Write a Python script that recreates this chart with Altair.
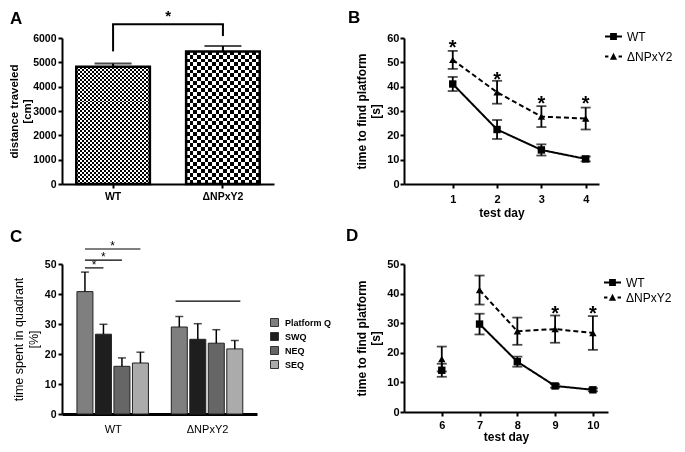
import altair as alt
import pandas as pd

FONT = "Liberation Sans"

# ---------------- data ----------------
groups = ["WT", "ΔNPxY2"]

# Panel A: distance travelled
a_groups = ["WT", "ΔNPxY2"]
a_mean = [4820, 5450]
a_sem = [130, 220]
a_ticks = [0, 1000, 2000, 3000, 4000, 5000, 6000]
a_bracket_top = 6560
a_bracket_legs = [5450, 6080]
a_star_y = 7000

# Panel B: acquisition, days 1-4
b_days = [1, 2, 3, 4]
b_wt_mean = [41.1, 22.4, 14.0, 10.3]
b_wt_sem = [2.9, 3.9, 2.3, 1.0]
b_np_mean = [51.0, 37.7, 27.7, 26.9]
b_np_sem = [3.7, 4.7, 4.3, 4.5]
b_star_days = [1, 2, 3, 4]
b_star_y = [58.3, 45.2, 35.2, 35.2]

# Panel C: probe trial, time in quadrant
c_quadrants = ["Platform Q", "SWQ", "NEQ", "SEQ"]
c_colors = ["#7f7f7f", "#1e1e1e", "#666666", "#ababab"]
c_wt_mean = [40.8, 26.6, 15.9, 17.0]
c_wt_sem = [6.5, 3.3, 2.8, 3.6]
c_np_mean = [29.0, 24.9, 23.6, 21.7]
c_np_sem = [3.5, 5.2, 4.5, 2.8]
c_sig_vs = ["SWQ", "NEQ", "SEQ"]
c_sig_y = [48.7, 51.3, 55.0]
c_np_line_y = 37.6

# Panel D: reversal, days 6-10
d_days = [6, 7, 8, 9, 10]
d_wt_mean = [14.1, 29.7, 17.0, 8.8, 7.5]
d_wt_sem = [2.2, 3.5, 1.7, 0.6, 0.5]
d_np_mean = [17.9, 41.2, 27.3, 28.0, 26.7]
d_np_sem = [4.2, 4.9, 4.6, 4.6, 5.7]
d_first_connected_day = 7
d_star_days = [9, 10]
d_star_y = [35.2, 35.2]

# ---------------- helpers ----------------
def letter(t, dx, dy):
    return alt.TitleParams(t, anchor="start", frame="group", dx=dx, dy=dy, offset=8,
                           fontSize=17, fontWeight="bold", font=FONT, color="black")


def stripe_gradient(n, horizontal):
    stops = []
    for k in range(n):
        col = "#000000" if k % 2 == 0 else "#ffffff"
        stops.append({"offset": k / n, "color": col})
        stops.append({"offset": (k + 1) / n, "color": col})
    return {"gradient": "linear", "stops": stops, "x1": 0, "y1": 0,
            "x2": 0 if horizontal else 1, "y2": 1 if horizontal else 0}


# ---------------- panel A ----------------
df_a = pd.DataFrame({"group": a_groups, "mean": a_mean, "sem": a_sem})
df_a["hi"] = df_a["mean"] + df_a["sem"]

xA = alt.X("group:N", title=None, sort=a_groups,
           scale=alt.Scale(domain=a_groups, paddingInner=0.33, paddingOuter=0.13),
           axis=alt.Axis(labelAngle=0, labelFontSize=10.5, labelPadding=3))
yA_scale = alt.Scale(domain=[0, 6000], nice=False)
yA_axis = alt.Axis(values=a_ticks, format="d", title=["distance traveled", "[cm]"],
                   titlePadding=0, titleFontSize=11.5)


def yA(f):
    return alt.Y(f, scale=yA_scale, axis=yA_axis)


checker = [(37, 59), (20, 36)]
layers_a = []
for g, (nv, nh) in zip(a_groups, checker):
    src = alt.Chart(df_a).transform_filter(alt.datum.group == g)
    layers_a.append(src.mark_bar(fill=stripe_gradient(nv, False), strokeWidth=0)
                    .encode(x=xA, y=yA("mean:Q")))
    layers_a.append(src.mark_bar(fill=stripe_gradient(nh, True), strokeWidth=0, blend="difference")
                    .encode(x=xA, y=yA("mean:Q")))

layers_a.append(alt.Chart(df_a).mark_bar(fill="white", fillOpacity=0, stroke="black", strokeWidth=2.5)
                .encode(x=xA, y=yA("mean:Q")))
layers_a.append(alt.Chart(df_a).mark_rule(color="black", strokeWidth=2)
                .encode(x=xA, y=yA("mean:Q"), y2="hi:Q"))
layers_a.append(alt.Chart(df_a).mark_tick(color="black", size=37, thickness=2)
                .encode(x=xA, y=yA("hi:Q")))

df_legs = pd.DataFrame({"group": a_groups, "bottom": a_bracket_legs,
                        "top": [a_bracket_top] * len(a_groups)})
layers_a.append(alt.Chart(df_legs).mark_rule(color="black", strokeWidth=2)
                .encode(x=xA, y=yA("bottom:Q"), y2="top:Q"))
df_br = pd.DataFrame({"group": [a_groups[0]], "group_end": [a_groups[1]],
                      "top": [a_bracket_top], "star": [a_star_y]})
layers_a.append(alt.Chart(df_br).mark_rule(color="black", strokeWidth=2, strokeCap="square")
                .encode(x=xA, x2="group_end:N", y=yA("top:Q")))
layers_a.append(alt.Chart(df_br).mark_text(text="*", fontSize=15, fontWeight="bold", dx=55, dy=7,
                                           baseline="alphabetic", color="black")
                .encode(x=xA, y=yA("star:Q")))

panel_a = alt.layer(*layers_a).properties(width=212, height=146, title=letter("A", -52, 27))

# ---------------- line panels (B, D) ----------------
PATH_WT = "M-1,-0.12H1V0.12H-1Z M-0.4,-0.4H0.4V0.4H-0.4Z"
PATH_NP = ("M-1,-0.12H-0.6V0.12H-1Z M0.6,-0.12H1V0.12H0.6Z "
           "M0,-0.45L0.42,0.38H-0.42Z")


def long_df(days, wt_m, wt_s, np_m, np_s):
    rows = []
    for g, m, s in [(groups[0], wt_m, wt_s), (groups[1], np_m, np_s)]:
        for d, mm, ss in zip(days, m, s):
            rows.append({"day": d, "group": g, "mean": mm, "lo": mm - ss, "hi": mm + ss})
    return pd.DataFrame(rows)


def line_panel(df, stars, x_domain, x_values, y_values, width, height, line_filter,
               lx, ly, rowpad, title, lab_pad, tit_pad):
    xs = alt.Scale(domain=x_domain, nice=False, zero=False)
    xa = alt.Axis(values=x_values, title="test day", labelPadding=lab_pad, titlePadding=tit_pad,
                  labelFontSize=11)
    ys = alt.Scale(domain=[y_values[0], y_values[-1]], nice=False)
    ya = alt.Axis(values=y_values, title=["time to find platform", "[s]"], labelFontSize=11,
                  labelPadding=1, titlePadding=4)

    def X(f="day:Q"):
        return alt.X(f, scale=xs, axis=xa)

    def Y(f):
        return alt.Y(f, scale=ys, axis=ya)

    base = alt.Chart(df)
    lsrc = base if line_filter is None else base.transform_filter(line_filter)
    line = lsrc.mark_line(color="black", strokeWidth=2).encode(
        x=X(), y=Y("mean:Q"), detail="group:N",
        strokeDash=alt.StrokeDash("group:N", scale=alt.Scale(domain=groups, range=[[1, 0], [5, 3]]),
                                  legend=None))
    rule = base.mark_rule(color="black", strokeWidth=1.8).encode(x=X(), y=Y("lo:Q"), y2="hi:Q")
    cap_lo = base.mark_tick(orient="horizontal", size=10, thickness=1.8, color="black").encode(
        x=X(), y=Y("lo:Q"))
    cap_hi = base.mark_tick(orient="horizontal", size=10, thickness=1.8, color="black").encode(
        x=X(), y=Y("hi:Q"))
    pts = base.mark_point(filled=True, opacity=1, size=55, color="black").encode(
        x=X(), y=Y("mean:Q"),
        shape=alt.Shape("group:N", scale=alt.Scale(domain=groups, range=["square", "triangle-up"]),
                        legend=None))
    leg = base.mark_point(filled=True, opacity=1, size=289, color="black", clip=True).encode(
        x=alt.value(-300), y=alt.value(-300),
        shape=alt.Shape("group:N", scale=alt.Scale(domain=groups, range=[PATH_WT, PATH_NP]),
                        legend=alt.Legend(title=None, orient="none", legendX=lx, legendY=ly,
                                          symbolSize=289, labelFontSize=12, labelFont=FONT,
                                          labelFontWeight="normal", labelColor="black",
                                          rowPadding=rowpad, labelOffset=5,
                                          symbolFillColor="black", symbolStrokeWidth=0)))
    star = alt.Chart(stars).mark_text(text="*", fontSize=20, fontWeight="bold",
                                      baseline="alphabetic", dy=12, color="black").encode(
        x=X(), y=Y("y:Q"))
    return (alt.layer(line, rule, cap_lo, cap_hi, pts, leg, star)
            .resolve_scale(shape="independent")
            .properties(width=width, height=height, title=title))


df_b = long_df(b_days, b_wt_mean, b_wt_sem, b_np_mean, b_np_sem)
stars_b = pd.DataFrame({"day": b_star_days, "y": b_star_y})
panel_b = line_panel(df_b, stars_b, [-0.1, 4.3], b_days, [0, 10, 20, 30, 40, 50, 60],
                     195, 146, None, 201, -10, 5, letter("B", -56, 7), 5, 3)

df_d = long_df(d_days, d_wt_mean, d_wt_sem, d_np_mean, d_np_sem)
stars_d = pd.DataFrame({"day": d_star_days, "y": d_star_y})
panel_d = line_panel(df_d, stars_d, [5, 10.4], d_days, [0, 10, 20, 30, 40, 50],
                     204, 148, alt.datum.day >= d_first_connected_day, 200, 10, -4.5,
                     letter("D", -58, -5), 3, 1)

# ---------------- panel C ----------------
c_gap = 5.1
rows = []
for gi, (g, means, sems) in enumerate([(groups[0], c_wt_mean, c_wt_sem),
                                       (groups[1], c_np_mean, c_np_sem)]):
    for qi, (q, m, s) in enumerate(zip(c_quadrants, means, sems)):
        rows.append({"group": g, "quadrant": q, "pos": gi * c_gap + qi, "mean": m, "hi": m + s})
df_c = pd.DataFrame(rows)

sig_rows = []
for q, yv in zip(c_sig_vs, c_sig_y):
    e = c_quadrants.index(q)
    sig_rows.append({"pos": 0, "pos_end": e, "mid": e / 2, "y": yv})
df_sig = pd.DataFrame(sig_rows)
df_np_line = pd.DataFrame({"pos": [c_gap - 0.2], "pos_end": [c_gap + 3.3], "y": [c_np_line_y]})

xs_c = alt.Scale(domain=[-0.97, 9.03], nice=False, zero=False)
xa_c = alt.Axis(values=[1.5, 1.5 + c_gap],
                labelExpr=f"datum.value < {c_gap} ? '{groups[0]}' : '{groups[1]}'",
                ticks=False, title=None, labelFontWeight="normal", labelFontSize=11,
                domainWidth=3, labelPadding=9)
ys_c = alt.Scale(domain=[0, 50], nice=False)
ya_c = alt.Axis(values=[0, 10, 20, 30, 40, 50], title=["time spent in quadrant", "[%]"],
                titleFontWeight="normal", titleFontSize=12.5, titlePadding=4)


def Xc(f):
    return alt.X(f, scale=xs_c, axis=xa_c)


def Yc(f):
    return alt.Y(f, scale=ys_c, axis=ya_c)


bars_c = alt.Chart(df_c).mark_bar(size=16, stroke="#222222", strokeWidth=1).encode(
    x=Xc("pos:Q"), y=Yc("mean:Q"),
    fill=alt.Fill("quadrant:N", sort=c_quadrants,
                  scale=alt.Scale(domain=c_quadrants, range=c_colors),
                  legend=alt.Legend(title=None, orient="none", legendX=208, legendY=54,
                                    symbolType="square", symbolSize=64,
                                    symbolStrokeColor="#333333", symbolStrokeWidth=1,
                                    labelFontSize=9, labelFontWeight="bold", labelFont=FONT,
                                    labelColor="black", rowPadding=1, labelOffset=6)))
err_c = alt.Chart(df_c).mark_rule(color="black", strokeWidth=1.5).encode(
    x=Xc("pos:Q"), y=Yc("mean:Q"), y2="hi:Q")
cap_c = alt.Chart(df_c).mark_tick(orient="horizontal", size=8, thickness=1.5, color="black").encode(
    x=Xc("pos:Q"), y=Yc("hi:Q"))
sig_c = alt.Chart(df_sig).mark_rule(color="black", strokeWidth=1.2).encode(
    x=Xc("pos:Q"), x2="pos_end:Q", y=Yc("y:Q"))
sigstar_c = alt.Chart(df_sig).mark_text(text="*", fontSize=12, baseline="alphabetic", dy=1,
                                        color="black").encode(x=Xc("mid:Q"), y=Yc("y:Q"))
npline_c = alt.Chart(df_np_line).mark_rule(color="black", strokeWidth=1.2).encode(
    x=Xc("pos:Q"), x2="pos_end:Q", y=Yc("y:Q"))

panel_c = alt.layer(bars_c, err_c, cap_c, sig_c, sigstar_c, npline_c).properties(
    width=195, height=150, title=letter("C", -52, 14))

# ---------------- assemble ----------------
chart = (
    alt.concat(panel_a, panel_b, panel_c, panel_d, columns=2,
               spacing={"row": 80, "column": 130}, bounds="flush", align="each")
    .resolve_scale(shape="independent", strokeDash="independent", fill="independent")
    .resolve_legend(shape="independent", strokeDash="independent", fill="independent")
    .properties(padding={"left": 0, "top": 0, "right": 0, "bottom": 10})
    .configure(font=FONT)
    .configure_axis(domainColor="black", domainWidth=2, tickColor="black", tickWidth=2,
                    tickSize=4, labelColor="black", titleColor="black", labelFont=FONT,
                    titleFont=FONT, labelFontWeight="bold", titleFontWeight="bold",
                    labelFontSize=10.5, titleFontSize=12, grid=False, labelPadding=2,
                    titlePadding=3)
    .configure_view(stroke=None)
)

chart.save("out.html", embed_options={"renderer": "svg", "actions": False})
